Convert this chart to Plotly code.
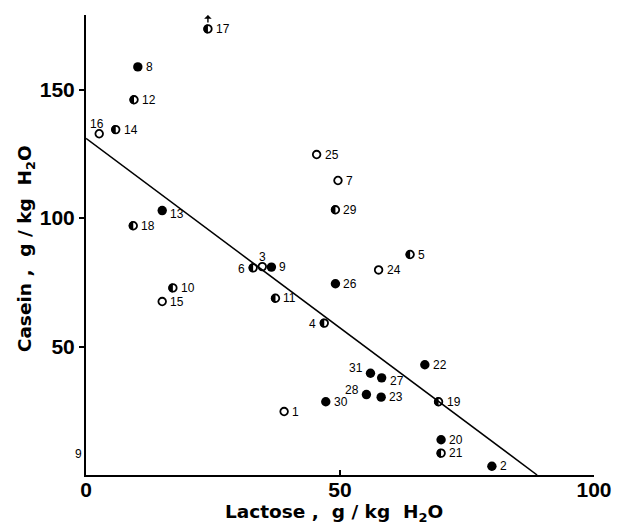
import plotly.graph_objects as go

# ---- data ----
ids = [1, 2, 3, 4, 5, 6, 7, 8, 9, 10, 11, 12, 13, 14, 15, 16,
       17, 18, 19, 20, 21, 22, 23, 24, 25, 26, 27, 28, 29, 30, 31]
lactose = [39.0, 79.9, 34.7, 46.9, 63.8, 32.9, 49.6, 10.2, 36.5, 17.1, 37.3, 9.45, 15.0, 5.85, 15.0, 2.6,
           24.0, 9.3, 69.4, 69.9, 69.9, 66.7, 58.1, 57.6, 45.4, 49.1, 58.2, 55.2, 49.1, 47.2, 56.0]
casein = [24.7, 3.4, 81.1, 59.1, 85.8, 80.6, 114.6, 158.8, 80.9, 72.8, 68.8, 146.0, 102.9, 134.4, 67.5, 132.8,
          173.6, 97.0, 28.5, 13.7, 8.5, 42.9, 30.3, 79.8, 124.7, 74.4, 37.8, 31.3, 103.2, 28.5, 39.6]
# o = open, f = filled, h = half filled
kind = ["o", "f", "o", "h", "h", "h", "o", "f", "f", "h", "h", "h", "f", "h", "o", "o",
        "h", "h", "h", "f", "h", "f", "f", "o", "o", "f", "f", "f", "h", "f", "f"]
# label placement: r = right, l = left, t = above, tl = above-left, br = slightly below-right
label_pos = ["r", "r", "t", "l", "r", "l", "r", "r", "r", "r", "r", "r", "br", "r", "r", "tl",
             "r", "r", "r", "r", "r", "r", "r", "r", "r", "r", "br", "tl", "r", "r", "tl"]

line_x = [0, 88.8]
line_y = [131, 0]

x_ticks = [0, 50, 100]
y_ticks = [50, 100, 150]

fig = go.Figure()

fig.add_trace(go.Scatter(x=line_x, y=line_y, mode="lines",
                         line=dict(color="black", width=1.5), hoverinfo="skip"))

style = {"o": dict(symbol="circle-open", size=7.6, color="black",
                   line=dict(color="black", width=1.8)),
         "h": dict(symbol="circle-open", size=7.6, color="black",
                   line=dict(color="black", width=1.8)),
         "f": dict(symbol="circle", size=9.4, color="black",
                   line=dict(color="black", width=0))}
for k in ["o", "h", "f"]:
    idx = [i for i in range(len(ids)) if kind[i] == k]
    fig.add_trace(go.Scatter(
        x=[lactose[i] for i in idx], y=[casein[i] for i in idx],
        mode="markers", marker=style[k], cliponaxis=False,
    ))

# half-filled markers: left half drawn as pixel-sized path
r = 4.5
kk = 0.5523 * r
half_path = (f"M 0,{r} C {-kk},{r} {-r},{kk} {-r},0 "
             f"C {-r},{-kk} {-kk},{-r} 0,{-r} Z")
shapes = []
for i in range(len(ids)):
    if kind[i] == "h":
        shapes.append(dict(type="path", xref="x", yref="y",
                           xsizemode="pixel", ysizemode="pixel",
                           xanchor=lactose[i], yanchor=casein[i],
                           path=half_path, fillcolor="black",
                           line=dict(width=0)))

lab_font = dict(family="Liberation Sans", size=12, color="black")
offsets = {"r": ("left", 6, 0), "l": ("right", -6, -1), "t": ("center", 0, 10),
           "tl": ("right", -5, 5), "br": ("left", 6, -3)}
annotations = []
for i in range(len(ids)):
    anc, dx, dy = offsets[label_pos[i]]
    if ids[i] == 16:
        anc, dx, dy = "center", -2, 10
    annotations.append(dict(x=lactose[i], y=casein[i], xref="x", yref="y",
                            text=str(ids[i]), showarrow=False, font=lab_font,
                            xanchor=anc, yanchor="middle", xshift=dx, yshift=dy))

i17 = ids.index(17)
annotations.append(dict(x=lactose[i17], y=casein[i17], xref="x", yref="y",
                        text="", showarrow=True, arrowhead=1, arrowsize=0.9,
                        arrowwidth=1.4, arrowcolor="black",
                        ax=0, ay=9, yshift=14))
# stray label at lower left, outside the axes
annotations.append(dict(x=-0.026, y=0.026, xref="paper", yref="paper", text="9",
                        showarrow=False, font=lab_font))

title_font = dict(family="DejaVu Sans", size=18.5, color="black", weight="bold")
annotations.append(dict(x=0.488, y=-0.082, xref="paper", yref="paper",
                        text="Lactose ,  g / kg  H<sub>2</sub>O", showarrow=False,
                        xanchor="center", yanchor="middle", font=title_font))
annotations.append(dict(x=-0.118, y=0.491, xref="paper", yref="paper",
                        text="Casein ,  g / kg  H<sub>2</sub>O", showarrow=False,
                        textangle=-90, xanchor="center", yanchor="middle", font=title_font))

fig.update_layout(
    width=626, height=524,
    margin=dict(l=86, r=32, t=15, b=49),
    paper_bgcolor="white", plot_bgcolor="white",
    showlegend=False,
    shapes=shapes,
    annotations=annotations,
    xaxis=dict(range=[0, 100], tickvals=x_ticks, ticktext=[str(v) for v in x_ticks],
               showline=True, linecolor="black", linewidth=2, automargin=False,
               ticks="inside", ticklen=5, tickcolor="black", tickwidth=1.5,
               ticklabelstandoff=-5,
               showgrid=False, zeroline=False,
               tickfont=dict(family="Liberation Sans", size=21, color="black", weight="bold")),
    yaxis=dict(range=[0, 179], tickvals=y_ticks, ticktext=[str(v) for v in y_ticks],
               showline=True, linecolor="black", linewidth=2, automargin=False,
               ticks="outside", ticklen=5, tickcolor="black", tickwidth=1.5,
               showgrid=False, zeroline=False,
               tickfont=dict(family="Liberation Sans", size=21, color="black", weight="bold")),
)

fig.write_html("out.html", config={"displayModeBar": False},
               post_script="document.body.style.margin='0px';document.body.style.overflow='hidden';")
